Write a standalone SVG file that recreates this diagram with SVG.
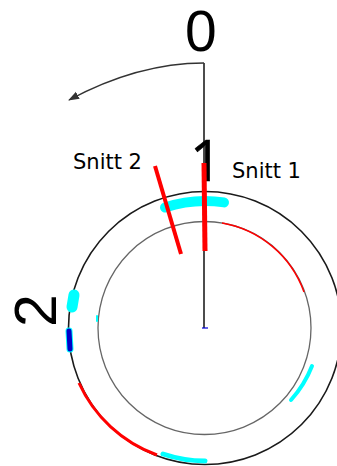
<svg xmlns="http://www.w3.org/2000/svg" width="337" height="466" viewBox="0 0 337 466">
<style>
.big{font-family:"Liberation Sans",Arial,sans-serif;font-size:57px;fill:#000}
.one{font-family:"Open Sans",Arial,sans-serif;font-size:56px;fill:#000;stroke:#000;stroke-width:.6}
.lab{font-family:"DejaVu Sans",Verdana,sans-serif;font-size:21px;fill:#000}
.ring{fill:none}
.cy{fill:none;stroke:#00ffff;stroke-linecap:round}
.red{fill:none;stroke:#ff0000;stroke-linecap:butt}
</style>
<defs>
<marker id="ah" markerWidth="12" markerHeight="10" refX="10" refY="4" orient="auto" markerUnits="userSpaceOnUse"><path d="M0 0L11 4L0 8z" fill="#333"/></marker>
</defs>
<rect width="337" height="466" fill="#fff"/>
<g id="rings">
<circle class="ring" cx="205" cy="328" r="136.5" stroke="#1a1a1a" stroke-width="1.6"/>
<circle class="ring" cx="204.5" cy="328" r="106.5" stroke="#666" stroke-width="1.3"/>
</g>
<g id="connectors">
<path d="M204 63V328" fill="none" stroke="#111" stroke-width="1.5"/>
<path d="M204 63C155 63 110 78 69 100" fill="none" stroke="#333" stroke-width="1.4" marker-end="url(#ah)"/>
<path d="M202 328H208" stroke="#0000e0" stroke-width="1.2"/>
</g>
<g id="arcs">
<path class="red" d="M222 223A106.500 106.500 0 0 1 304 292" stroke-width="1.5" stroke="#d82020"/>
<path class="red" d="M79 383A136.500 136.500 0 0 0 157 455" stroke-width="3"/>
<path class="cy" d="M165 207.500A127 127 0 0 1 224 202.400" stroke-width="10"/>
<path class="cy" d="M163 454A136 136 0 0 0 205 461" stroke-width="5"/>
<path class="cy" d="M312 366A112 112 0 0 1 291 400" stroke-width="4"/>
<path class="cy" d="M74 295L72 307" stroke-width="11"/>
<path class="cy" d="M97 316V321" stroke-width="2"/>
<path class="cy" d="M69 331L70 349" stroke-width="7" stroke="#7fe8f0"/>
<path d="M69 331L70 349" fill="none" stroke="#0000c8" stroke-width="5" stroke-linecap="round"/>
</g>
<g id="labels">
<text class="big" x="185" y="51">0</text>
<text class="one" x="190" y="181">1</text>
<text class="big" style="font-size:59px" transform="translate(56 327) rotate(-90)">2</text>
<text class="lab" x="73" y="169">Snitt 2</text>
<text class="lab" x="232" y="178">Snitt 1</text>
</g>
<g id="cuts">
<path class="red" d="M155 166L181 254" stroke-width="4"/>
<path class="red" d="M204 163L205 251" stroke-width="5"/>
</g>
</svg>
